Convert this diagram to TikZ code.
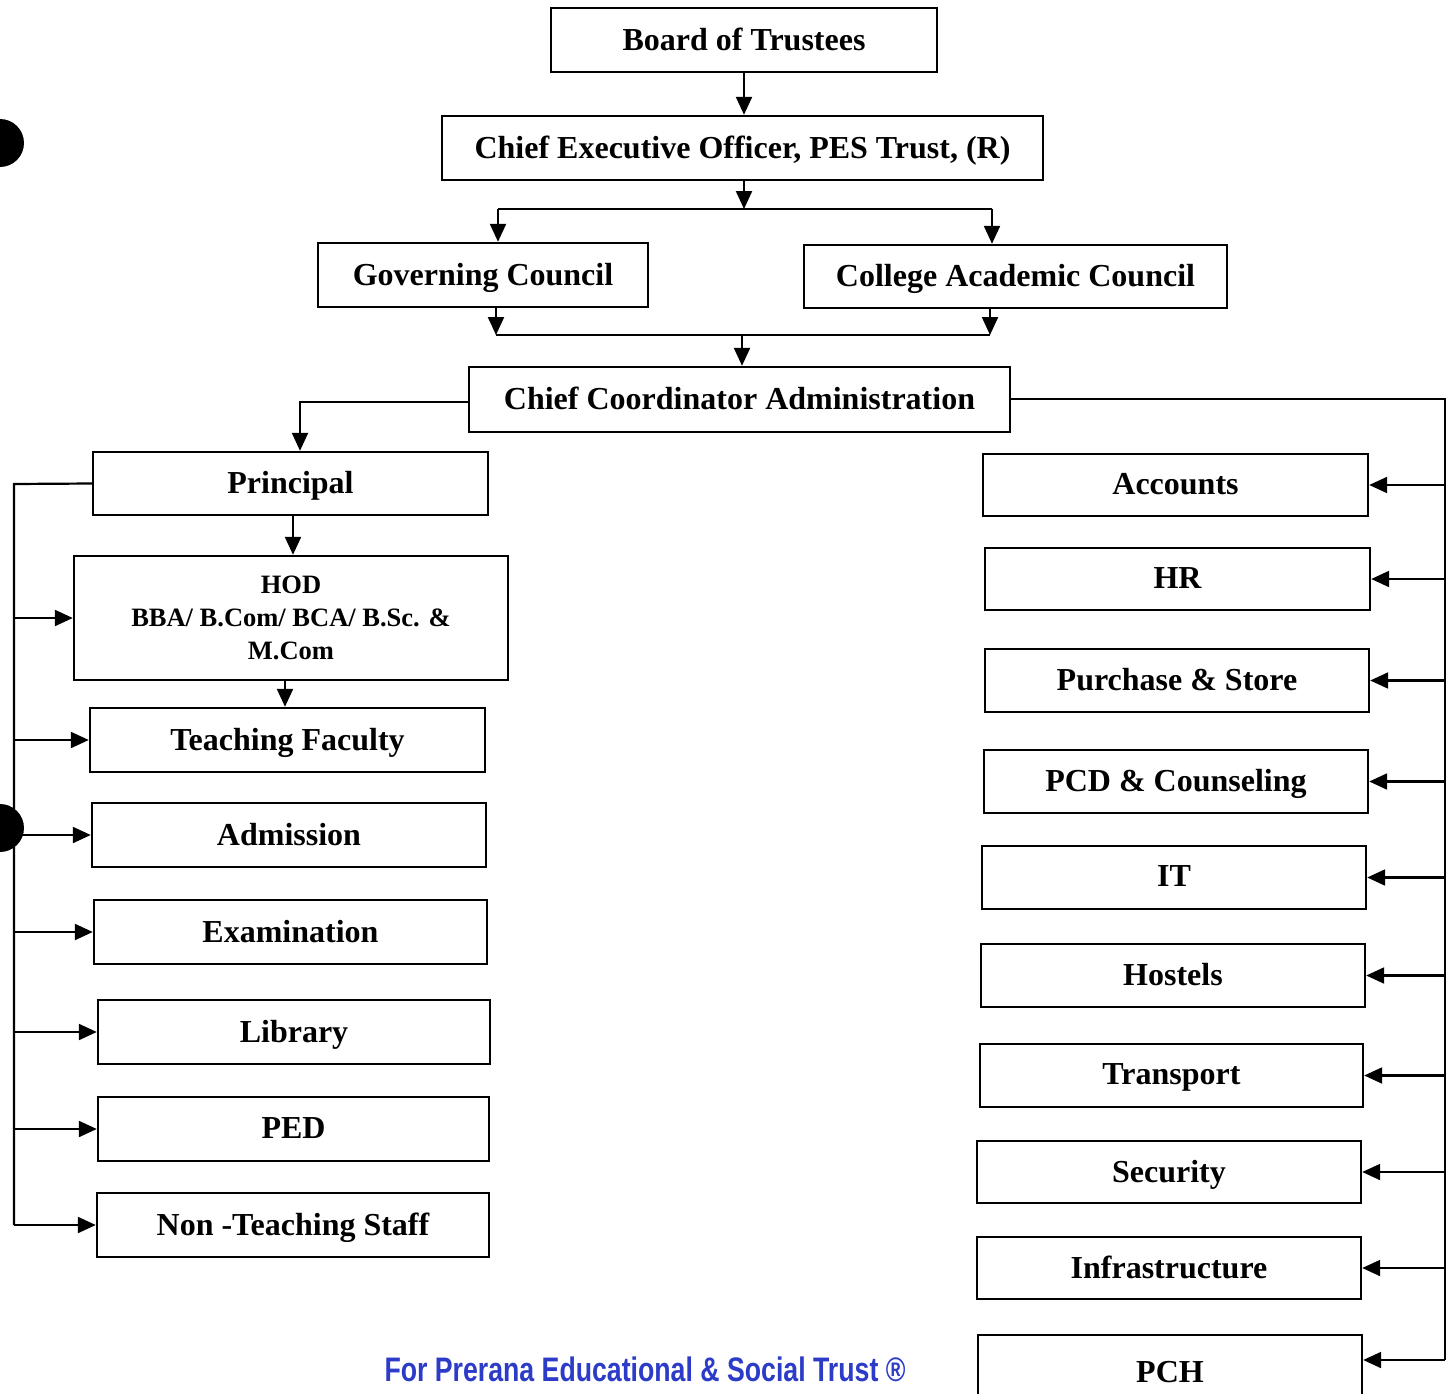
\documentclass[tikz,border=0pt]{standalone}
\usepackage{fontspec}
\setmainfont{Liberation Serif}
\newfontfamily\stampfont{Liberation Sans}
\usetikzlibrary{arrows.meta}
\definecolor{stampblue}{RGB}{45,60,200}
\tikzset{
  box/.style={draw, line width=2.4pt, inner sep=0pt, align=center, text depth=2pt,
    font=\fontsize{32}{36}\selectfont\bfseries},
  conn/.style={line width=2.2pt},
  arr/.style={conn, -{Triangle[length=18pt,width=16pt]}},
}
\begin{document}
\begin{tikzpicture}[x=1pt,y=-1pt]
\useasboundingbox (0,0) rectangle (1451,1394);
\clip (0,0) rectangle (1451,1394);
\fill[white] (0,0) rectangle (1451,1394);
% punch holes
\fill[black] (0,143) circle (24);
\fill[black] (0,828) circle (24);
% top
\node[box, minimum width=386pt, minimum height=64pt] (bot) at (744,40) {Board of Trustees};
\node[box, minimum width=601pt, minimum height=64pt] (ceo) at (742.5,148) {Chief Executive Officer, PES Trust, (R)};
\node[box, minimum width=330pt, minimum height=64pt] (gc) at (483,275) {Governing Council};
\node[box, minimum width=423pt, minimum height=63pt] (cac) at (1015.5,276.5) {College Academic Council};
\node[box, minimum width=541pt, minimum height=65pt] (cca) at (739.5,399.5) {Chief Coordinator Administration};
% left column
\node[box, minimum width=395pt, minimum height=63pt] (pri) at (290.5,483.5) {Principal};
\node[box, minimum width=434pt, minimum height=124pt, text depth=, font=\fontsize{26.5}{33}\selectfont\bfseries] (hod) at (291,618) {HOD\\BBA/ B.Com/ BCA/ B.Sc. \&\\M.Com};
\node[box, minimum width=395pt, minimum height=64pt] (tf) at (287.5,740) {Teaching Faculty};
\node[box, minimum width=394pt, minimum height=64pt] (adm) at (289,835) {Admission};
\node[box, minimum width=393pt, minimum height=64pt] (exa) at (290.5,932) {Examination};
\node[box, minimum width=392pt, minimum height=64pt] (lib) at (294,1032) {Library};
\node[box, minimum width=391pt, minimum height=64pt] (ped) at (293.5,1129) {PED};
\node[box, minimum width=392pt, minimum height=64pt] (nts) at (293,1225) {Non -Teaching Staff};
% right column
\node[box, minimum width=385pt, minimum height=62pt] (acc) at (1175.5,485) {Accounts};
\node[box, minimum width=385pt, minimum height=62pt] (hr) at (1177.5,579) {HR};
\node[box, minimum width=384pt, minimum height=63pt] (pur) at (1177,680.5) {Purchase \& Store};
\node[box, minimum width=384pt, minimum height=63pt] (pcd) at (1176,781.5) {PCD \& Counseling};
\node[box, minimum width=384pt, minimum height=63pt] (it) at (1174,877.5) {IT};
\node[box, minimum width=384pt, minimum height=63pt] (hos) at (1173,975.5) {Hostels};
\node[box, minimum width=383pt, minimum height=63pt] (tra) at (1171.5,1075.5) {Transport};
\node[box, minimum width=384pt, minimum height=62pt] (sec) at (1169,1172) {Security};
\node[box, minimum width=384pt, minimum height=62pt] (inf) at (1169,1268) {Infrastructure};
\node[box, minimum width=384pt, minimum height=74pt, text depth=0pt] (pch) at (1170,1372) {PCH};
% top connectors
\draw[arr] (bot.south) -- (bot.south |- ceo.north);
\coordinate (sm) at (744,209);
\coordinate (sl) at (498,209);
\coordinate (sr) at (992,209);
\draw[arr] (ceo.south -| sm) -- (sm);
\draw[conn] (sl) -- (sr);
\draw[arr] (sl) -- (sl |- gc.north);
\draw[arr] (sr) -- (sr |- cac.north);
\coordinate (jl) at (496,335);
\coordinate (jr) at (990,335);
\coordinate (jm) at (742,335);
\draw[arr] (jl |- gc.south) -- (jl);
\draw[arr] (jr |- cac.south) -- (jr);
\draw[conn] (jl) -- (jr);
\draw[arr] (jm) -- (jm |- cca.north);
% CCA to principal
\coordinate (pt) at (300,402);
\draw[arr] (cca.west |- pt) -- (pt) -- (pt |- pri.north);
% CCA to right trunk
\coordinate (rt) at (1445,399);
\coordinate (rb) at (1445,1360);
\draw[conn] (cca.east |- rt) -- (rt) -- (rb);
\foreach \n in {acc,hr,pur,pcd,it,hos,tra,sec,inf}{
  \draw[arr] (rt |- \n.east) -- (\n.east);
}
\draw[arr] (rb) -- (rb -| pch.east);
% principal / HOD / TF
\coordinate (ph) at (293,515);
\draw[arr] (ph |- pri.south) -- (ph |- hod.north);
\coordinate (ht) at (285,680);
\draw[arr] (ht |- hod.south) -- (ht |- tf.north);
% left trunk
\coordinate (lt) at (14,484);
\draw[conn] (pri.west) -- (lt) -- (lt |- nts.west);
\foreach \n in {hod,tf,adm,exa,lib,ped,nts}{
  \draw[arr] (lt |- \n.west) -- (\n.west);
}
% stamp
\node[text=stampblue, inner sep=0pt, font=\stampfont\fontsize{34}{38}\selectfont\bfseries] (stamp) at (645,1369) {\scalebox{0.785}[1]{For Prerana Educational \& Social Trust ®}};
\end{tikzpicture}
\end{document}
